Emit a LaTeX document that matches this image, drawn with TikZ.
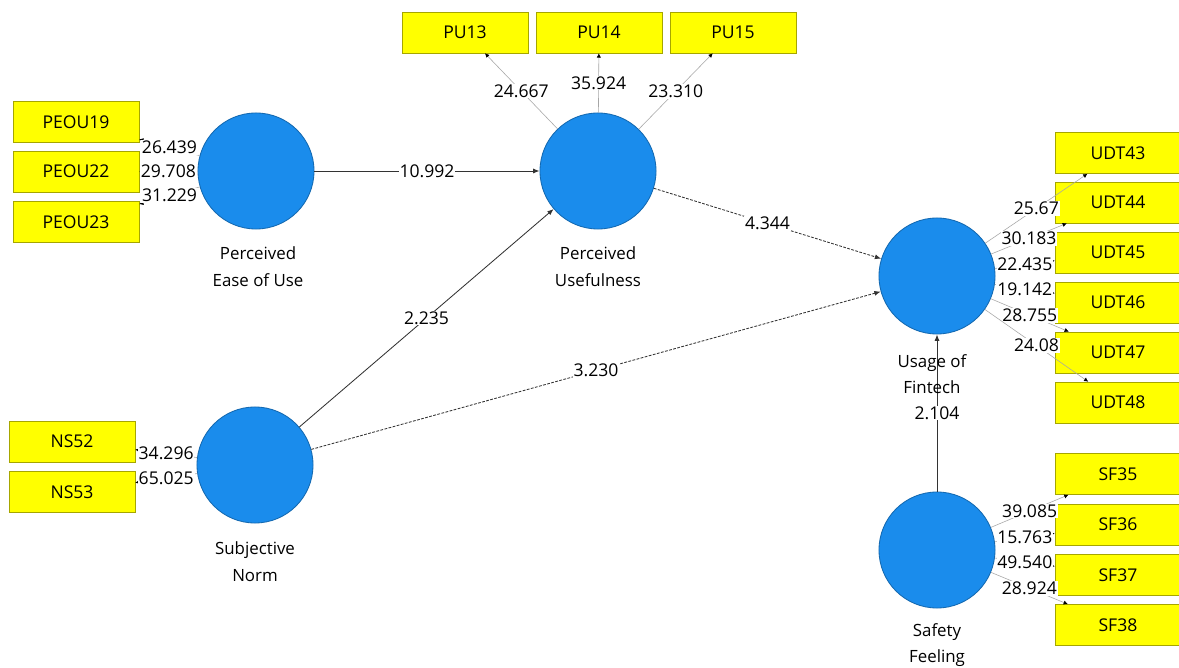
\documentclass[tikz,border=0pt]{standalone}
\usepackage{fontspec}
\setmainfont{Open Sans}
\usetikzlibrary{arrows.meta}
\definecolor{plsblue}{RGB}{26,140,236}
\definecolor{plsyellow}{RGB}{255,255,0}

\begin{document}
\begin{tikzpicture}[x=0.025cm, y=-0.025cm,
    latent/.style={draw=plsblue!75!black, circle, fill=plsblue, minimum size=2.9cm, line width=0.6pt},
    indicator/.style={draw=plsyellow!65!black, fill=plsyellow, minimum width=3.15cm, minimum height=1.03cm, line width=0.3pt, font=\fontsize{12.5}{14}\selectfont},
    conname/.style={align=center, font=\fontsize{12}{19}\selectfont},
    coef/.style={fill=white, inner sep=0.6pt, font=\fontsize{12.5}{14}\selectfont},
    link/.style={draw=black!80, line width=0.6pt, -{Latex[length=4.5pt,width=3.5pt]}},
    dashlink/.style={link, dash pattern=on 2pt off 1pt},
    loadlink/.style={draw=black!35, line width=0.4pt, -{Latex[length=3pt,width=3pt,color=black]}}]
                    \fill[white] (0,0) rectangle (1179,668);
                    \useasboundingbox (0,0) rectangle (1179,668);

                    % constructs
                    \node[latent] (PEOU) at (256,171) {};
                    \node[latent] (PU) at (598,171) {};
                    \node[latent] (SN) at (255,465) {};
                    \node[latent] (UF) at (937,276) {};
                    \node[latent] (SF) at (937,550) {};

                    % indicators
                    \node[indicator] (PEOU19) at (76,122) {PEOU19};
                    \node[indicator] (PEOU22) at (76,171.5) {PEOU22};
                    \node[indicator] (PEOU23) at (76,222) {PEOU23};
                    \node[indicator] (PU13) at (465,32.5) {PU13};
                    \node[indicator] (PU14) at (599,32.5) {PU14};
                    \node[indicator] (PU15) at (733,32.5) {PU15};
                    \node[indicator] (NS52) at (72,441.5) {NS52};
                    \node[indicator] (NS53) at (72,492) {NS53};
                    \node[indicator] (UDT43) at (1118,153) {UDT43};
                    \node[indicator] (UDT44) at (1118,202.5) {UDT44};
                    \node[indicator] (UDT45) at (1118,252.5) {UDT45};
                    \node[indicator] (UDT46) at (1118,302.5) {UDT46};
                    \node[indicator] (UDT47) at (1118,352.5) {UDT47};
                    \node[indicator] (UDT48) at (1118,402.5) {UDT48};
                    \node[indicator] (SF35) at (1118,474) {SF35};
                    \node[indicator] (SF36) at (1118,524.5) {SF36};
                    \node[indicator] (SF37) at (1118,575) {SF37};
                    \node[indicator] (SF38) at (1118,625) {SF38};

                    % loadings
                    \draw[loadlink] (PEOU) -- node[coef] {26.439} (PEOU19);
                    \draw[loadlink] (PEOU) -- node[coef] {29.708} (PEOU22);
                    \draw[loadlink] (PEOU) -- node[coef] {31.229} (PEOU23);
                    \draw[loadlink] (PU) -- node[coef] {24.667} (PU13);
                    \draw[loadlink] (PU) -- node[coef] {35.924} (PU14);
                    \draw[loadlink] (PU) -- node[coef] {23.310} (PU15);
                    \draw[loadlink] (SN) -- node[coef] {34.296} (NS52);
                    \draw[loadlink] (SN) -- node[coef] {65.025} (NS53);
                    \draw[loadlink] (UF) -- node[coef] {25.67} (UDT43);
                    \draw[loadlink] (UF) -- node[coef] {30.183} (UDT44);
                    \draw[loadlink] (UF) -- node[coef] {22.435} (UDT45);
                    \draw[loadlink] (UF) -- node[coef] {19.142} (UDT46);
                    \draw[loadlink] (UF) -- node[coef] {28.755} (UDT47);
                    \draw[loadlink] (UF) -- node[coef] {24.08} (UDT48);
                    \draw[loadlink] (SF) -- node[coef] {39.085} (SF35);
                    \draw[loadlink] (SF) -- node[coef] {15.763} (SF36);
                    \draw[loadlink] (SF) -- node[coef] {49.540} (SF37);
                    \draw[loadlink] (SF) -- node[coef] {28.924} (SF38);

                    % paths
                    \draw[link] (PEOU) -- node[coef] {10.992} (PU);
                    \draw[link] (SN) -- node[coef] {2.235} (PU);
                    \draw[dashlink] (PU) -- node[coef] {4.344} (UF);
                    \draw[dashlink] (SN) -- node[coef] {3.230} (UF);
                    \draw[link] (SF) -- node[coef] {2.104} (UF);

                    % construct names
                    \node[conname] (PEOUname) at (258,266.5) {Perceived\\Ease of Use};
                    \node[conname] (PUname) at (598,266.5) {Perceived\\Usefulness};
                    \node[conname] (SNname) at (255,561.5) {Subjective\\Norm};
                    \node[conname] (UFname) at (932,374) {Usage of\\Fintech};
                    \node[conname] (SFname) at (937,645) {Safety\\Feeling};
                \end{tikzpicture}
\end{document}
